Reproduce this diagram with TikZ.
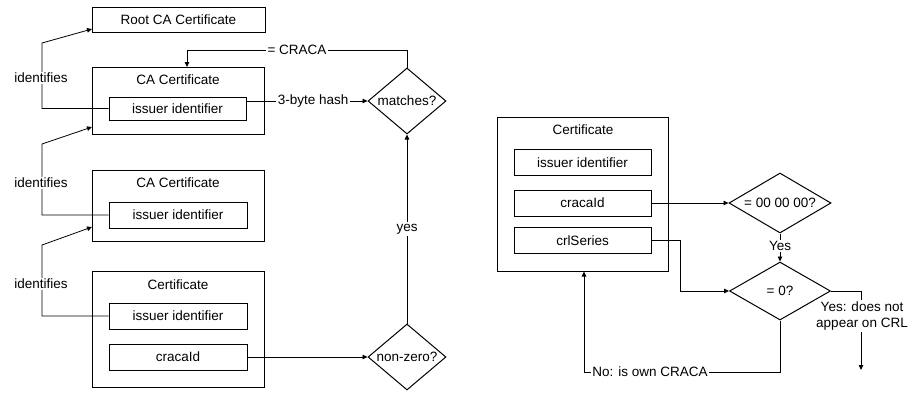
\documentclass[tikz,border=0pt]{standalone}
\usepackage{fontspec}
\setmainfont{Liberation Sans}
\usetikzlibrary{shapes.geometric,arrows.meta,calc}
\begin{document}
\begin{tikzpicture}[x=1pt,y=-1pt,
  font=\fontsize{13.5}{15.5}\selectfont,
  rbox/.style={draw, line width=1pt, inner sep=0pt},
  dbox/.style={draw, line width=1pt, shape=diamond, inner sep=0pt},
  ttl/.style={inner sep=0pt},
  conn/.style={draw, line width=0.8pt},
  arr/.style={conn, -{Triangle[length=5pt,width=4.5pt]}},
  lbl/.style={fill=white, inner sep=1.5pt}]
\useasboundingbox (0,0) rectangle (909,392);

% ---------- left side ----------
\node[rbox, minimum width=173pt, minimum height=25pt] (root) at (178.5,19.5) {Root CA Certificate};

\node[rbox, minimum width=172pt, minimum height=67pt] (ca1) at (178,100.5) {};
\node[ttl] (ca1t) at (178,80) {CA Certificate};
\node[rbox, minimum width=137pt, minimum height=23pt] (iss1) at (177.5,108.5) {issuer identifier};

\node[rbox, minimum width=172pt, minimum height=71pt] (ca2) at (178,205.5) {};
\node[ttl] (ca2t) at (178,183) {CA Certificate};
\node[rbox, minimum width=138pt, minimum height=26pt] (iss2) at (178,215) {issuer identifier};

\node[rbox, minimum width=172pt, minimum height=116pt] (cert) at (178,329) {};
\node[ttl] (certt) at (178,285) {Certificate};
\node[rbox, minimum width=138pt, minimum height=26pt] (iss3) at (178,316) {issuer identifier};
\node[rbox, minimum width=138pt, minimum height=26pt] (craca) at (178,357) {cracaId};

\node[dbox, minimum width=78pt, minimum height=66pt, label={center:matches?}] (match) at (407,101) {};
\node[dbox, minimum width=78pt, minimum height=66pt, label={center:non-zero?}] (nz) at (407,357) {};

\coordinate (r1) at (92,29);
\coordinate (r2) at (92,127);
\coordinate (r3) at (92,227);

\draw[arr] (iss1.west) -- (42,108.5) -- (42,43) -- (r1);
\draw[arr] (iss2.west) -- (42,215) -- (42,144) -- (r2);
\draw[arr] (iss3.west) -- (42,316) -- (42,245) -- (r3);
\node[lbl] (id1) at (41,78) {identifies};
\node[lbl] (id2) at (41,183) {identifies};
\node[lbl] (id3) at (41,284) {identifies};

\draw[arr] (craca.east) -- (nz.west);
\draw[arr] (nz.north) -- node[lbl, pos=0.5] {yes} (match.south);
\draw[arr] (iss1.east |- match.west) -- node[lbl, pos=0.55] {3-byte hash} (match.west);
\draw[arr] (match.north) -- (407,50) -- node[lbl, pos=0.5] {= CRACA} (187,50) -- (187,67);

% ---------- right side ----------
\node[rbox, minimum width=171pt, minimum height=154pt] (cert2) at (582.5,194) {};
\node[ttl] (cert2t) at (583,130) {Certificate};
\node[rbox, minimum width=137pt, minimum height=26pt] (iss4) at (582.5,162.5) {issuer identifier};
\node[rbox, minimum width=137pt, minimum height=26pt] (craca2) at (582.5,203) {cracaId};
\node[rbox, minimum width=137pt, minimum height=26pt] (crl) at (582.5,240.5) {crlSeries};

\node[dbox, minimum width=102pt, minimum height=60pt, label={center:= 00 00 00?}] (d1) at (780,203) {};
\node[dbox, minimum width=101pt, minimum height=58pt, label={center:= 0?}] (d2) at (780,291) {};

\coordinate (crlend) at (861,370);

\draw[arr] (craca2.east) -- (d1.west);
\draw[arr] (d1.south) -- node[lbl, pos=0.45] {Yes} (d2.north);
\draw[arr] (crl.east) -- (680,240.5) |- (d2.west);
\draw[arr] (d2.east) -| (crlend);
\node[lbl, align=center] (yesl) at (862,316) {Yes: does not\\appear on CRL};
\draw[arr] (d2.south) |- (584,372) -- (cert2.south -| 584,0);
\node[lbl] (nol) at (650,372) {No: is own CRACA};
\end{tikzpicture}
\end{document}
